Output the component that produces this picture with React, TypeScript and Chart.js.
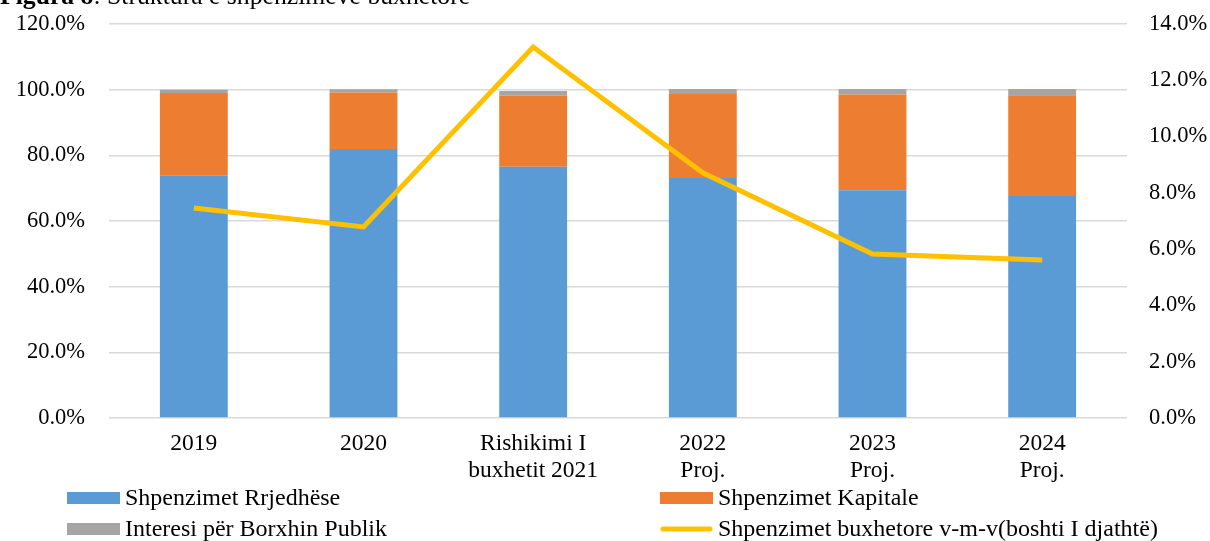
import React, { useEffect, useRef } from "react";
import { Chart, registerables } from "chart.js";

Chart.register(...registerables);

const categories: (string | string[])[] = [
  "2019",
  "2020",
  ["Rishikimi I", "buxhetit 2021"],
  ["2022", "Proj."],
  ["2023", "Proj."],
  ["2024", "Proj."],
];
const currentSpending = [73.8, 81.9, 76.5, 73.1, 69.4, 67.6];
const capitalSpending = [25.2, 17.2, 21.7, 25.6, 29.1, 30.7];
const debtInterest = [1.0, 1.0, 1.4, 1.5, 1.7, 1.9];
const budgetGrowth = [7.46, 6.79, 13.18, 8.71, 5.83, 5.61];
const leftTicks = [0, 20, 40, 60, 80, 100, 120];
const rightTicks = [0, 2, 4, 6, 8, 10, 12, 14];

const FONT = "'Liberation Serif', 'Times New Roman', serif";
const TICK_FS = 22.5;
const CAT_FS = 23.5;
const LEG_FS = 24;
const TITLE_FS = 25.7;

const overlay = {
  id: "overlay",
  afterDraw(chart: any) {
    const ctx = chart.ctx;
    ctx.save();
    ctx.fillStyle = "#000";
    ctx.textBaseline = "alphabetic";
    ctx.textAlign = "left";
    ctx.font = `bold ${TITLE_FS}px ${FONT}`;
    const t1 = "Figura 8";
    ctx.fillText(t1, 0, 4);
    const w = ctx.measureText(t1).width;
    ctx.font = `${TITLE_FS}px ${FONT}`;
    ctx.fillText(": Struktura e shpenzimeve buxhetore", w, 4);

    const ds = chart.data.datasets;
    const items = [
      { i: 0, x: 67, y: 498 },
      { i: 1, x: 660, y: 498 },
      { i: 2, x: 67, y: 529 },
      { i: 3, x: 660, y: 529 },
    ];
    ctx.textBaseline = "middle";
    ctx.font = `${LEG_FS}px ${FONT}`;
    for (const it of items) {
      const d = ds[it.i];
      if (d.type === "line") {
        ctx.strokeStyle = d.borderColor;
        ctx.lineWidth = 5;
        ctx.lineCap = "round";
        ctx.beginPath();
        ctx.moveTo(it.x + 3, it.y);
        ctx.lineTo(it.x + 50, it.y);
        ctx.stroke();
      } else {
        ctx.fillStyle = d.backgroundColor;
        ctx.fillRect(it.x, it.y - 6, 53, 12);
      }
      ctx.fillStyle = "#000";
      ctx.fillText(d.label, it.x + 58, it.y + 1);
    }
    ctx.restore();
  },
};

const noPad = (s: any) => {
  s.paddingTop = 0;
  s.paddingBottom = 0;
  s.paddingLeft = 0;
  s.paddingRight = 0;
};

export default function App() {
  const ref = useRef<HTMLCanvasElement>(null);
  useEffect(() => {
    if (!ref.current) return;
    const chart = new Chart(ref.current, {
      type: "bar",
      data: {
        labels: categories,
        datasets: [
          {
            type: "bar",
            label: "Shpenzimet Rrjedhëse",
            data: currentSpending,
            backgroundColor: "#5B9BD5",
            yAxisID: "y",
            order: 2,
          },
          {
            type: "bar",
            label: "Shpenzimet Kapitale",
            data: capitalSpending,
            backgroundColor: "#ED7D31",
            yAxisID: "y",
            order: 2,
          },
          {
            type: "bar",
            label: "Interesi për Borxhin Publik",
            data: debtInterest,
            backgroundColor: "#A5A5A5",
            yAxisID: "y",
            order: 2,
          },
          {
            type: "line",
            label: "Shpenzimet buxhetore v-m-v(boshti I djathtë)",
            data: budgetGrowth,
            borderColor: "#FFC000",
            backgroundColor: "#FFC000",
            borderWidth: 5,
            pointRadius: 0,
            tension: 0,
            yAxisID: "y1",
            order: 0,
          } as any,
        ],
      },
      options: {
        responsive: false,
        animation: false,
        layout: { padding: { top: 24, left: 0, right: 0, bottom: 0 } },
        plugins: {
          legend: { display: false },
          tooltip: { enabled: false },
          title: { display: false },
        },
        datasets: {
          bar: { categoryPercentage: 0.8, barPercentage: 0.5 },
        },
        scales: {
          x: {
            stacked: true,
            grid: { display: false, drawTicks: false },
            border: { display: false },
            ticks: {
              color: "#000",
              font: { family: FONT, size: CAT_FS, lineHeight: 1.15 },
              padding: 12,
              maxRotation: 0,
              autoSkip: false,
            },
            afterFit: (s: any) => {
              s.height = 123;
              noPad(s);
            },
          },
          y: {
            stacked: true,
            position: "left",
            min: 0,
            max: 120,
            afterBuildTicks: (s: any) => {
              s.ticks = leftTicks.map((v) => ({ value: v }));
            },
            grid: { color: "#D9D9D9", lineWidth: 1.5, drawTicks: false },
            border: { display: false },
            ticks: {
              color: "#000",
              font: { family: FONT, size: TICK_FS },
              padding: 24,
              callback: (v: any) => Number(v).toFixed(1) + "%",
            },
            afterFit: (s: any) => {
              s.width = 109;
              noPad(s);
            },
          },
          y1: {
            position: "right",
            min: 0,
            max: 14,
            afterBuildTicks: (s: any) => {
              s.ticks = rightTicks.map((v) => ({ value: v }));
            },
            grid: { display: false, drawTicks: false },
            border: { display: false },
            ticks: {
              color: "#000",
              font: { family: FONT, size: TICK_FS },
              padding: 22,
              callback: (v: any) => Number(v).toFixed(1) + "%",
            },
            afterFit: (s: any) => {
              s.width = 83;
              noPad(s);
            },
          },
        },
      },
      plugins: [overlay],
    });
    return () => chart.destroy();
  }, []);
  return (
    <div style={{ position: "absolute", left: 0, top: 0, width: 1210, height: 541, background: "#fff" }}>
      <canvas ref={ref} width={1210} height={541} style={{ display: "block" }} />
    </div>
  );
}
